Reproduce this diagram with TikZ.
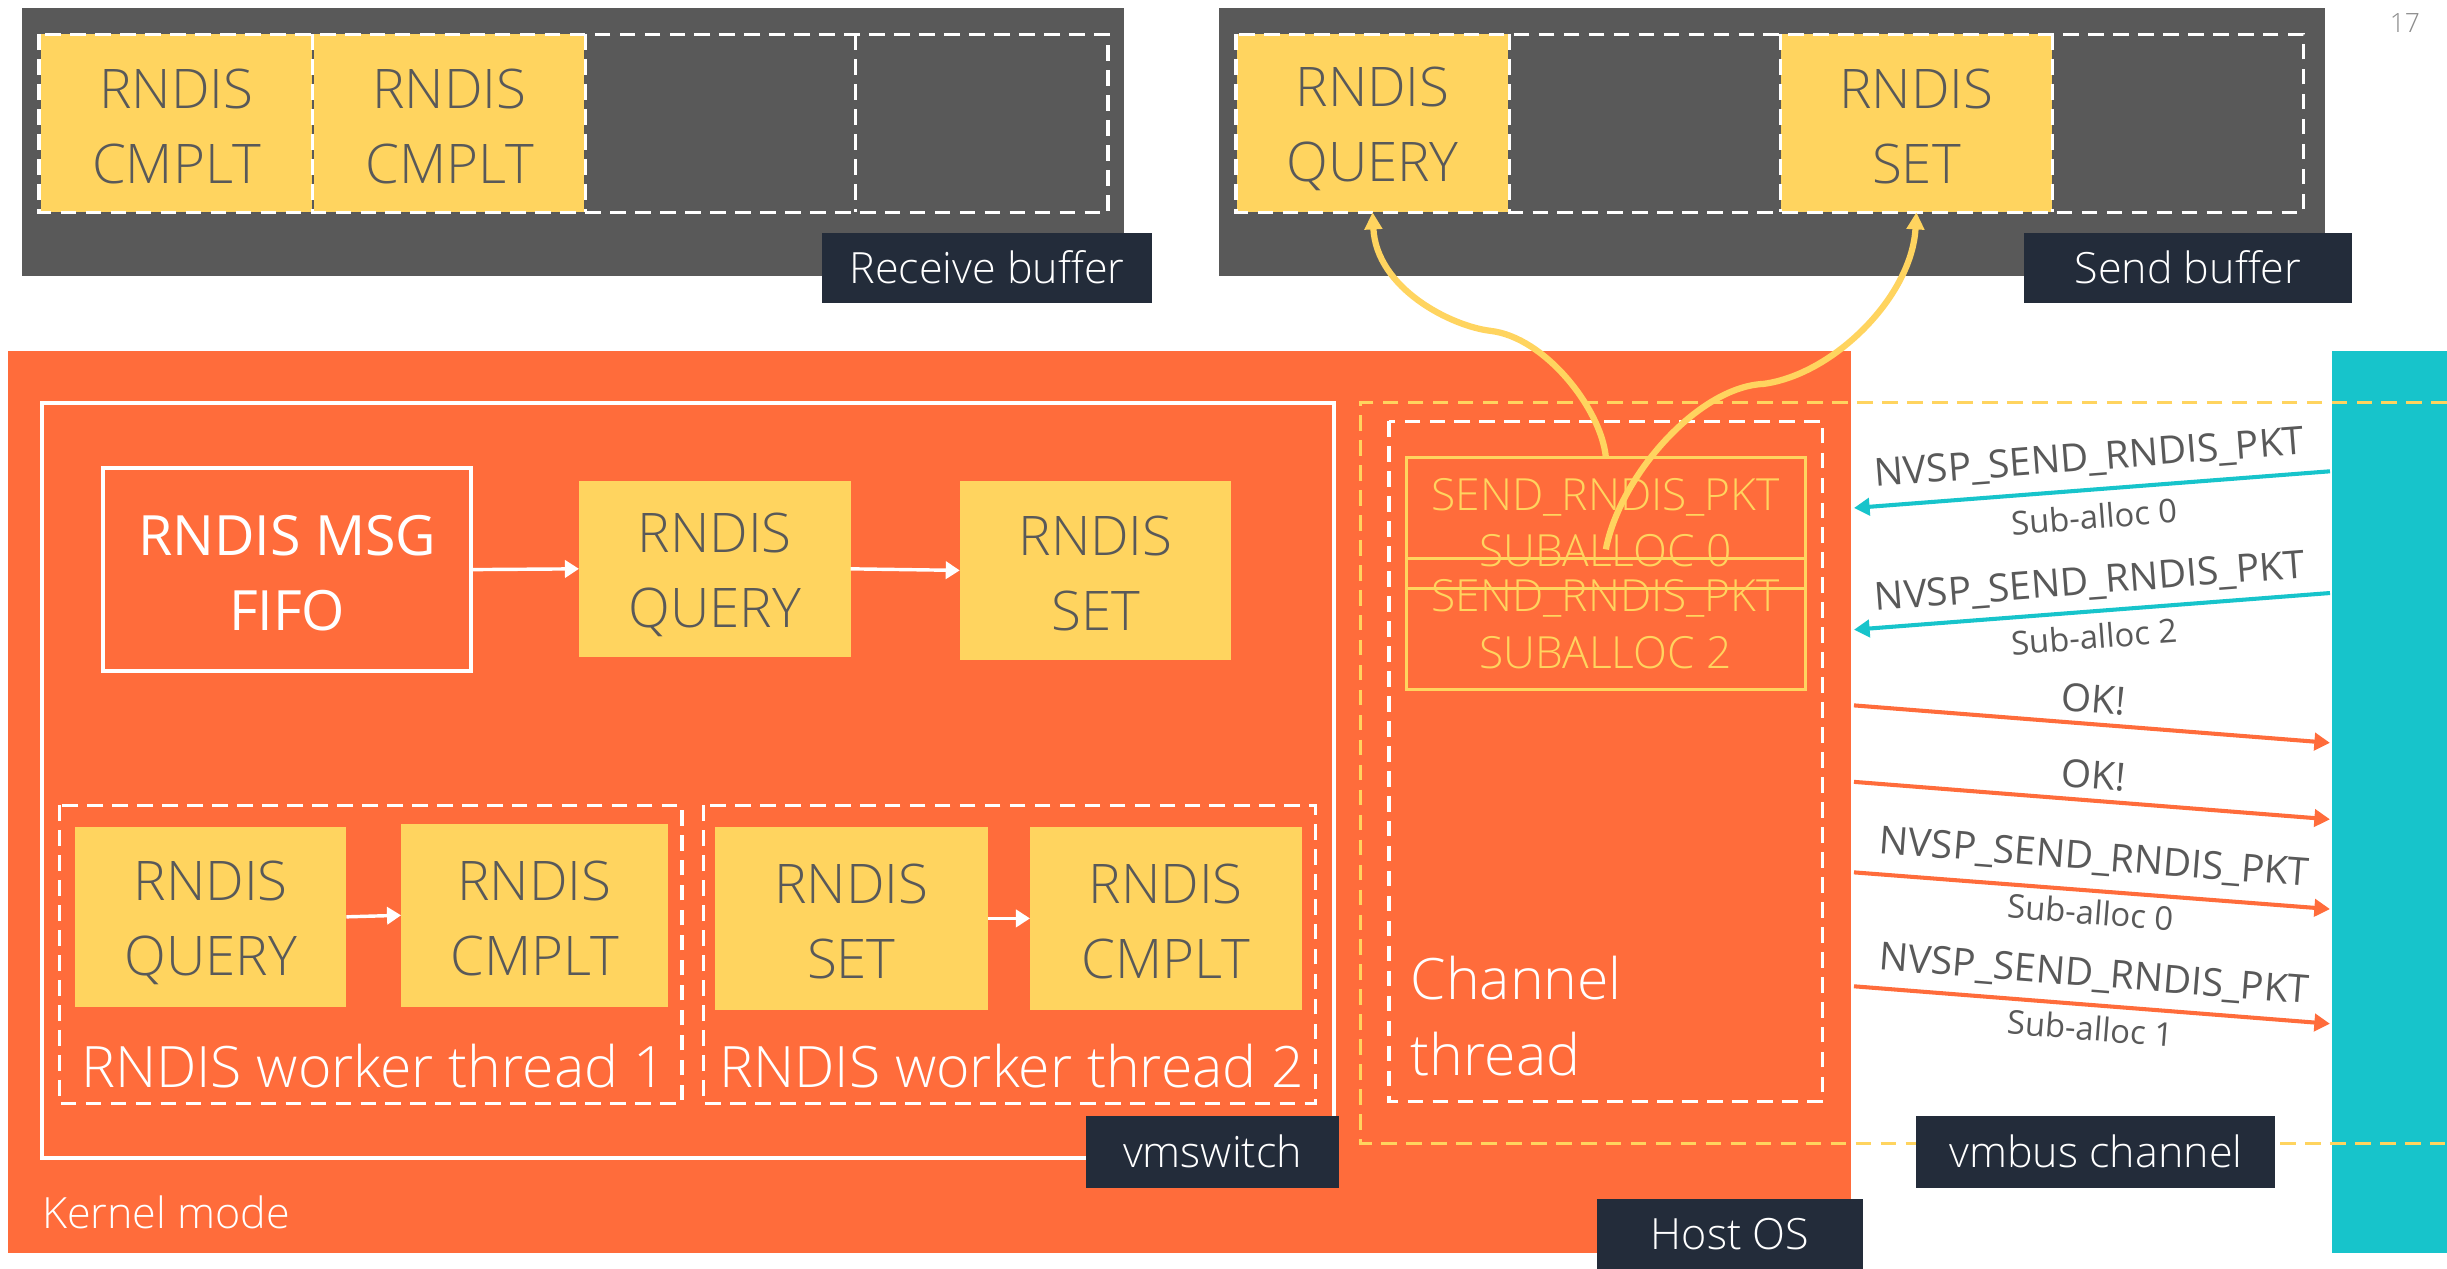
\documentclass[tikz,border=0pt]{standalone}
\usepackage{fontspec}
\setmainfont{Open Sans Light}[BoldFont={Open Sans}]
\newfontfamily\regfont{Open Sans}
\usetikzlibrary{arrows.meta}

\definecolor{bufgray}{HTML}{595959}
\definecolor{txtgray}{HTML}{595959}
\definecolor{numgray}{HTML}{8C8C8C}
\definecolor{note}{HTML}{FFD45F}
\definecolor{hostor}{HTML}{FF6C3B}
\definecolor{vmteal}{HTML}{17C4CB}
\definecolor{tagnavy}{HTML}{232C3A}

\begin{document}
\begin{tikzpicture}[x=0.5pt,y=-0.5pt,
  every node/.style={inner sep=0pt, outer sep=0pt},
  slot/.style={fill=note, minimum width=87pt, minimum height=57pt},
  slottxt/.style={text=txtgray, align=center, font=\fontsize{17.5}{24}\selectfont},
  say/.style={label={[slottxt, yshift=-0.9pt]center:{#1}}},
  sayq/.style={label={[slottxt, yshift=-1.9pt]center:{#1}}},
  tag/.style={fill=tagnavy, text=white, font=\fontsize{13.8}{16}\selectfont,
    minimum height=22.5pt},
  wdash/.style={draw=white, line width=1pt, dash pattern=on 5pt off 3pt},
  ydash/.style={draw=note, line width=1pt, dash pattern=on 5pt off 3pt},
  flow/.style={draw=white, line width=1.1pt, -{Triangle[length=4.5pt,width=5.5pt]}},
  yarc/.style={draw=note, line width=2pt, -{Triangle[length=5.5pt,width=5.5pt]}},
  tealarr/.style={draw=vmteal, line width=1.3pt, -{Triangle[length=5pt,width=5.5pt]}},
  orarr/.style={draw=hostor, line width=1.3pt, -{Triangle[length=5pt,width=5.5pt]}},
  lbl/.style={text=txtgray, font=\regfont\fontsize{12.4}{15}\selectfont, sloped},
  sublbl/.style={text=txtgray, font=\regfont\fontsize{10.5}{13}\selectfont, sloped},
  bigwhite/.style={text=white, font=\fontsize{18.3}{24.5}\selectfont},
  pkt/.style={draw=note, line width=1pt, text=note, align=center,
    font=\fontsize{14.2}{18}\selectfont, minimum width=128pt, minimum height=42pt}
]
\useasboundingbox (0,0) rectangle (1568,813);
\fill[white] (0,0) rectangle (1568,813);

% ---------- receive buffer ----------
\fill[bufgray] (14,5) rectangle (720,177);
\node[slot, say={RNDIS\\CMPLT}] (rc1) at (113,79) {};
\node[slot, minimum width=86.5pt, say={RNDIS\\CMPLT}] (rc2) at (288,79) {};
\draw[wdash] (25,22) rectangle (710,136);
\draw[wdash] (200,22) -- (200,136) (375,22) -- (375,136) (548,22) -- (548,136);
\node[tag, minimum width=105.5pt] (rbuf) at (632.5,171.5) {Receive buffer};

% ---------- send buffer ----------
\fill[bufgray] (781,5) rectangle (1490,177);
\node[slot, sayq={RNDIS\\QUERY}] (sq) at (879.5,79) {};
\node[slot, say={RNDIS\\SET}] (ss) at (1228,79) {};
\draw[wdash] (792,22) rectangle (1476,136);
\draw[wdash] (967,22) -- (967,136) (1141,22) -- (1141,136) (1315,22) -- (1315,136);
\node[tag, minimum width=105pt] (sbuf) at (1402,171.5) {Send buffer};

\node[text=numgray, font=\fontsize{8.5}{10}\selectfont] (pgno) at (1541,15) {17};

% ---------- host side ----------
\fill[hostor] (5,225) rectangle (1186,803);
\fill[vmteal] (1494,225) rectangle (1568,803);

% vmswitch
\draw[white, line width=1.2pt] (27,258) rectangle (855,742);
\node[draw=white, line width=1.2pt, minimum width=118pt, minimum height=65pt,
  label={[text=white, align=center, yshift=-1pt,
    font=\regfont\fontsize{17.8}{24}\selectfont]center:{RNDIS MSG\\FIFO}}] (fifo) at (184,365) {};
\node[slot, minimum height=56.5pt, sayq={RNDIS\\QUERY}] (q) at (458,364.5) {};
\node[slot, minimum height=57.5pt, say={RNDIS\\SET}] (st) at (702,365.5) {};
\draw[flow] (fifo.east) -- (q.west);
\draw[flow] (q.east) -- (st.west);

% worker threads
\draw[wdash] (38,516) rectangle (437,707);
\draw[wdash] (451,516) rectangle (843,707);
\node[slot, minimum height=57.5pt, sayq={RNDIS\\QUERY}] (wq) at (135,587.5) {};
\node[slot, minimum width=85.5pt, minimum height=58.5pt, say={RNDIS\\CMPLT}] (wc) at (342.5,586.5) {};
\node[slot, minimum width=87.5pt, minimum height=58.5pt, say={RNDIS\\SET}] (ws) at (545.5,588.5) {};
\node[slot, minimum height=58.5pt, say={RNDIS\\CMPLT}] (wc2) at (747,588.5) {};
\draw[flow] (wq.east) -- (wc.west);
\draw[flow] (ws.east) -- (wc2.west);
\node[bigwhite, anchor=base west] (w1) at (52,697) {RNDIS worker thread 1};
\node[bigwhite, anchor=base west] (w2) at (461,697) {RNDIS worker thread 2};

\node[tag, minimum width=81pt, minimum height=23pt] (vsw) at (777,738) {vmswitch};
\node[text=white, font=\fontsize{13.8}{16}\selectfont, anchor=base west] (kmode) at (27,787) {Kernel mode};

% vmbus channel region
\draw[ydash] (1568,258) -- (872,258) -- (872,733) -- (1568,733);
\draw[wdash] (890,270) rectangle (1168,706);
\node[bigwhite, align=left, anchor=west] (chan) at (904,651) {Channel\\thread};

\node[pkt] (sp0) at (1029,335) {SEND\_RNDIS\_PKT\\SUBALLOC 0};
\node[pkt] (sp2) at (1029,400) {SEND\_RNDIS\_PKT\\SUBALLOC 2};

\coordinate (c2) at (1029,352);
\draw[yarc] (sp0.north) .. controls (1026,262) and (990,216) .. (955,212)
  .. controls (930,209) and (882,185) .. (sq.south);
\draw[yarc] (c2) .. controls (1038,305) and (1088,248) .. (1130,246)
  .. controls (1175,240) and (1225,190) .. (ss.south);

\node[tag, minimum width=115pt, minimum height=23pt] (vmb) at (1343,738) {vmbus channel};
\node[tag, minimum width=85.5pt] (hos) at (1108.5,790.5) {Host OS};

% messages between the channel and vmbus
\coordinate (a1s) at (1493,302);   \coordinate (a1e) at (1188,325.5);
\coordinate (a2s) at (1493,380);   \coordinate (a2e) at (1188,403.5);
\coordinate (a3s) at (1188,452);   \coordinate (a3e) at (1493,476);
\coordinate (a4s) at (1188,501);   \coordinate (a4e) at (1493,525);
\coordinate (a5s) at (1188,559);   \coordinate (a5e) at (1493,582.5);
\coordinate (a6s) at (1188,632);   \coordinate (a6e) at (1493,656);

\draw[tealarr] (a1s) -- node[lbl, above=4.3pt]{NVSP\_SEND\_RNDIS\_PKT}
  node[sublbl, below=4.6pt]{Sub-alloc 0} (a1e);
\draw[tealarr] (a2s) -- node[lbl, above=3.6pt]{NVSP\_SEND\_RNDIS\_PKT}
  node[sublbl, below=4pt]{Sub-alloc 2} (a2e);
\draw[orarr] (a3s) -- node[lbl, above=3.5pt]{OK!} (a3e);
\draw[orarr] (a4s) -- node[lbl, above=3.5pt]{OK!} (a4e);
\draw[orarr] (a5s) -- node[lbl, above=4.8pt]{NVSP\_SEND\_RNDIS\_PKT}
  node[sublbl, below=2.8pt]{Sub-alloc 0} (a5e);
\draw[orarr] (a6s) -- node[lbl, above=4pt]{NVSP\_SEND\_RNDIS\_PKT}
  node[sublbl, below=3.4pt]{Sub-alloc 1} (a6e);
\end{tikzpicture}
\end{document}
